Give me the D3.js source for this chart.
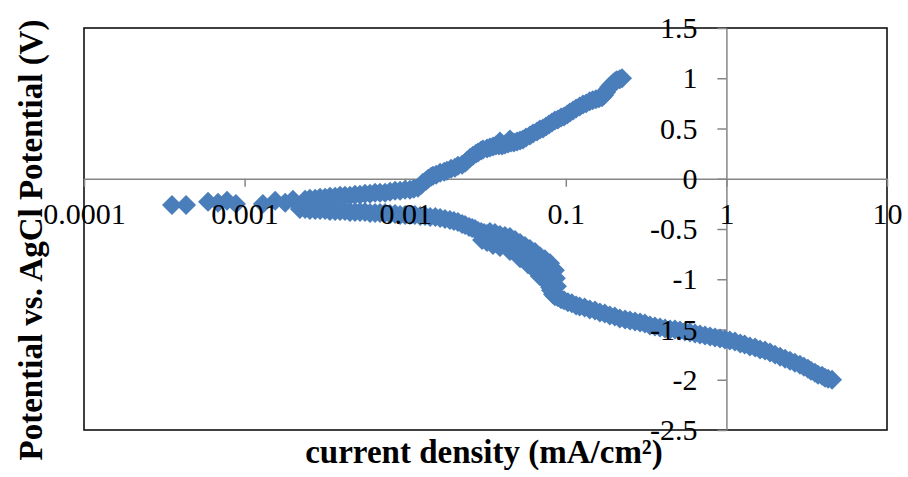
<!DOCTYPE html>
<html>
<head>
<meta charset="utf-8">
<script src="https://cdn.jsdelivr.net/npm/d3@7"></script>
<style>
  body { margin: 0; background: #fff; }
  svg { display: block; }
  text { font-family: "Liberation Serif", "Times New Roman", serif; }
</style>
</head>
<body>
<div id="chart"></div>
<script>
// current density (mA/cm2) and potential (V)
var cathodicCurrent = [4.55, 4.30, 4.11, 3.94, 3.72, 3.56, 3.36, 3.22, 3.04, 2.87, 2.67, 2.49, 2.32, 2.16, 2.01,
  1.87, 1.74, 1.62, 1.51, 1.40, 1.30, 1.22, 1.13, 1.05, 0.979, 0.912, 0.849, 0.791, 0.736, 0.685, 0.638,
  0.593, 0.552, 0.514, 0.478, 0.446, 0.415, 0.386, 0.359, 0.334, 0.311, 0.290, 0.270, 0.251, 0.234, 0.217,
  0.202, 0.188, 0.175, 0.163, 0.152, 0.141, 0.131, 0.122, 0.116, 0.109, 0.103, 0.0975, 0.0934, 0.0893,
  0.0855, 0.0832, 0.0809, 0.0798, 0.0786, 0.0774, 0.0753, 0.0741, 0.0721, 0.0700, 0.0670, 0.0643, 0.0616,
  0.0598, 0.0573, 0.0557, 0.0534, 0.0519, 0.0497, 0.0483, 0.0463, 0.0449, 0.0430, 0.0418, 0.0401, 0.0389,
  0.0373, 0.0362, 0.0347, 0.0337, 0.0323, 0.0310, 0.0297, 0.0284, 0.0272, 0.0261, 0.0250, 0.0236, 0.0226,
  0.0213, 0.0201, 0.0190, 0.0177, 0.0165, 0.0154, 0.0143, 0.0133, 0.0124, 0.0115, 0.0107, 0.00998, 0.00929,
  0.00865, 0.00804, 0.00749, 0.00697, 0.00649, 0.00604, 0.00562, 0.00523, 0.00487, 0.00453, 0.00422,
  0.00393, 0.00366, 0.00340, 0.00317, 0.00295, 0.00275, 0.00255, 0.00238, 0.00221];
var cathodicPotential = [-2.00, -1.99, -1.98, -1.96, -1.95, -1.93, -1.91, -1.89, -1.87, -1.85, -1.83, -1.81, -1.79, -1.77, -1.75,
  -1.73, -1.71, -1.70, -1.68, -1.67, -1.65, -1.64, -1.62, -1.61, -1.60, -1.59, -1.58, -1.57, -1.56, -1.55, -1.54,
  -1.53, -1.52, -1.51, -1.50, -1.50, -1.49, -1.48, -1.47, -1.46, -1.44, -1.43, -1.42, -1.41, -1.40, -1.39,
  -1.37, -1.36, -1.34, -1.33, -1.31, -1.30, -1.28, -1.27, -1.26, -1.24, -1.23, -1.21, -1.20, -1.18,
  -1.17, -1.15, -1.11, -1.08, -1.05, -1.01, -0.97, -0.93, -0.90, -0.88, -0.86, -0.84, -0.82,
  -0.81, -0.79, -0.78, -0.76, -0.74, -0.72, -0.71, -0.69, -0.68, -0.66, -0.65, -0.64, -0.64,
  -0.62, -0.61, -0.59, -0.57, -0.55, -0.54, -0.53, -0.52, -0.50, -0.49, -0.48, -0.46, -0.45,
  -0.43, -0.42, -0.41, -0.40, -0.39, -0.38, -0.38, -0.37, -0.37, -0.36, -0.36, -0.36, -0.36,
  -0.35, -0.35, -0.34, -0.34, -0.34, -0.34, -0.33, -0.33, -0.33, -0.33, -0.32,
  -0.32, -0.32, -0.32, -0.31, -0.31, -0.31, -0.31, -0.30, -0.30];

// scattered readings that widen the cathodic band between 0.03 and 0.09 mA/cm2
var cathodicSpreadCurrent = [0.0337, 0.0362, 0.0389, 0.0418, 0.0449, 0.0483, 0.0519, 0.0557, 0.0598, 0.0643,
  0.0690, 0.0741, 0.0798, 0.0855, 0.0867, 0.0881,
  0.0301, 0.0323, 0.0352, 0.0389, 0.0449, 0.0519, 0.0581, 0.0643, 0.0690];
var cathodicSpreadPotential = [-0.53, -0.54, -0.56, -0.57, -0.58, -0.61, -0.64, -0.67, -0.70, -0.73,
  -0.77, -0.80, -0.84, -0.91, -0.99, -1.07,
  -0.61, -0.63, -0.66, -0.68, -0.72, -0.79, -0.85, -0.91, -0.97];

var ecorrCurrent = [0.000353, 0.000432, 0.000592, 0.000683, 0.000777, 0.000883, 0.00130, 0.00155, 0.00179, 0.00200];
var ecorrPotential = [-0.26, -0.26, -0.23, -0.24, -0.22, -0.25, -0.25, -0.22, -0.24, -0.21];

var anodicCurrent = [0.00238, 0.00255, 0.00275, 0.00295, 0.00317, 0.00340, 0.00366, 0.00393, 0.00422, 0.00453,
  0.00487, 0.00523, 0.00562, 0.00604, 0.00649, 0.00697, 0.00749, 0.00804, 0.00865, 0.00929, 0.00998,
  0.0107, 0.0113, 0.0120, 0.0126, 0.0129, 0.0135, 0.0139, 0.0145, 0.0149, 0.0156, 0.0165, 0.0175, 0.0182,
  0.0193, 0.0204, 0.0213, 0.0226, 0.0236, 0.0243, 0.0254, 0.0264, 0.0276, 0.0284, 0.0297, 0.0305, 0.0323,
  0.0337, 0.0352, 0.0367, 0.0383, 0.0401, 0.0418, 0.0437, 0.0456, 0.0475, 0.0497, 0.0519, 0.0542, 0.0565,
  0.0598, 0.0625, 0.0662, 0.0690, 0.0721, 0.0753, 0.0786, 0.0820, 0.0855, 0.0893, 0.0934, 0.0975, 0.102,
  0.106, 0.111, 0.116, 0.122, 0.128, 0.134, 0.141, 0.147, 0.154, 0.161, 0.168, 0.173, 0.178, 0.183,
  0.186, 0.191, 0.197, 0.203, 0.208, 0.217, 0.224];
var anodicPotential = [-0.21, -0.20, -0.20, -0.19, -0.19, -0.18, -0.18, -0.17, -0.17, -0.17,
  -0.16, -0.16, -0.15, -0.15, -0.14, -0.14, -0.14, -0.13, -0.12, -0.12, -0.11,
  -0.11, -0.10, -0.09, -0.06, -0.04, -0.02, 0.00, 0.02, 0.03, 0.04, 0.06, 0.07, 0.08,
  0.10, 0.11, 0.13, 0.14, 0.16, 0.18, 0.21, 0.23, 0.25, 0.26, 0.28, 0.29, 0.30,
  0.31, 0.32, 0.33, 0.33, 0.33, 0.34, 0.35, 0.36, 0.36, 0.37, 0.38, 0.39, 0.41,
  0.43, 0.45, 0.47, 0.49, 0.50, 0.52, 0.54, 0.56, 0.58, 0.59, 0.61, 0.62, 0.64,
  0.66, 0.68, 0.70, 0.72, 0.74, 0.75, 0.77, 0.78, 0.79, 0.80, 0.81, 0.83, 0.86, 0.89,
  0.91, 0.93, 0.95, 0.97, 0.98, 0.99, 1.00];

// scattered readings on the anodic side
var anodicSpreadCurrent = [0.0389, 0.0449];
var anodicSpreadPotential = [0.37, 0.39];

var xTicks = [0.0001, 0.001, 0.01, 0.1, 1, 10];
var xTickLabels = ["0.0001", "0.001", "0.01", "0.1", "1", "10"];
var yTicks = [-2.5, -2, -1.5, -1, -0.5, 0, 0.5, 1, 1.5];
var yTickLabels = ["-2.5", "-2", "-1.5", "-1", "-0.5", "0", "0.5", "1", "1.5"];

var width = 908, height = 477;
var plot = { left: 84, right: 887, top: 28, bottom: 430 };
var markColor = "#4A7EBB", axisGray = "#868686";

var data = [];
function addPoints(cur, pot) {
  cur.forEach(function (c, i) { data.push({ c: c, e: pot[i] }); });
}
addPoints(cathodicCurrent, cathodicPotential);
addPoints(cathodicSpreadCurrent, cathodicSpreadPotential);
addPoints(ecorrCurrent, ecorrPotential);
addPoints(anodicCurrent, anodicPotential);
addPoints(anodicSpreadCurrent, anodicSpreadPotential);

var svg = d3.select("#chart").append("svg")
  .attr("width", width)
  .attr("height", height);

var x = d3.scaleLog().domain([0.0001, 10]).range([plot.left, plot.right]);
var y = d3.scaleLinear().domain([-2.5, 1.5]).range([plot.bottom, plot.top]);

// plot area frame
svg.append("rect")
  .attr("x", plot.left).attr("y", plot.top)
  .attr("width", plot.right - plot.left).attr("height", plot.bottom - plot.top)
  .attr("fill", "none").attr("stroke", "#000").attr("stroke-width", 1.5);

// axis lines + tick marks (under the markers)
var xAxisLines = svg.append("g")
  .attr("transform", "translate(0," + y(0) + ")")
  .call(d3.axisBottom(x).tickValues(xTicks).tickSize(8).tickSizeOuter(0).tickFormat(""));
var yAxisLines = svg.append("g")
  .attr("transform", "translate(" + x(1) + ",0)")
  .call(d3.axisLeft(y).tickValues(yTicks).tickSize(9).tickSizeOuter(0).tickFormat(""));
[xAxisLines, yAxisLines].forEach(function (g) {
  g.select(".domain").attr("stroke", axisGray).attr("stroke-width", 1.5);
  g.selectAll(".tick line").attr("stroke", axisGray).attr("stroke-width", 1.5);
});

// markers: diamonds
var diamond = d3.symbol().type(d3.symbolSquare).size(200);
svg.append("g").selectAll("path")
  .data(data)
  .enter().append("path")
  .attr("d", diamond)
  .attr("transform", function (d) { return "translate(" + x(d.c) + "," + y(d.e) + ") rotate(45)"; })
  .attr("fill", markColor);

// tick labels drawn over the markers
var xLabels = svg.append("g")
  .attr("transform", "translate(0," + y(0) + ")")
  .call(d3.axisBottom(x).tickValues(xTicks).tickSize(0).tickPadding(24)
    .tickFormat(function (d, i) { return xTickLabels[i]; }));
var yLabels = svg.append("g")
  .attr("transform", "translate(" + x(1) + ",0)")
  .call(d3.axisLeft(y).tickValues(yTicks).tickSize(0).tickPadding(29)
    .tickFormat(function (d, i) { return yTickLabels[i]; }));
[xLabels, yLabels].forEach(function (g) {
  g.select(".domain").remove();
  g.selectAll(".tick line").remove();
  g.selectAll("text")
    .attr("fill", "#000")
    .style("font-family", '"Liberation Serif", "Times New Roman", serif')
    .style("font-size", "30px");
});

// axis titles
svg.append("text")
  .attr("x", 484).attr("y", 463)
  .attr("text-anchor", "middle")
  .style("font-size", "33px").style("font-weight", "bold")
  .text("current density (mA/cm²)");

svg.append("text")
  .attr("transform", "translate(42,240) rotate(-90)")
  .attr("text-anchor", "middle")
  .style("font-size", "33px").style("font-weight", "bold")
  .text("Potential vs. AgCl Potential (V)");
</script>
</body>
</html>
